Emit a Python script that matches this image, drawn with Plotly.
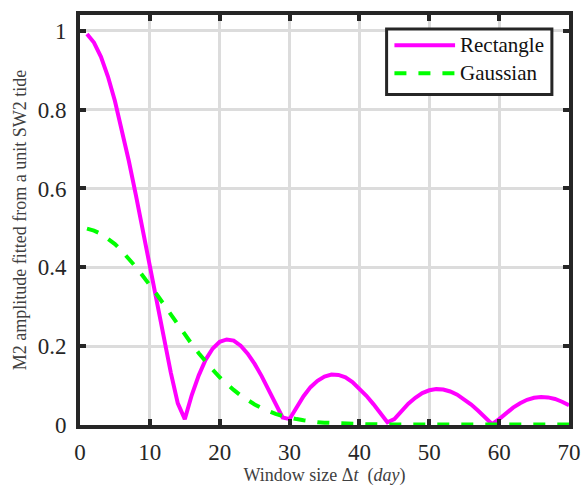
import plotly.graph_objects as go

days = list(range(1, 71))

rectangle = [
    0.992, 0.970, 0.934, 0.884, 0.822, 0.750, 0.669, 0.583, 0.492, 0.399,
    0.307, 0.217, 0.133, 0.055, 0.015, 0.076, 0.126, 0.166, 0.194, 0.211,
    0.217, 0.214, 0.201, 0.181, 0.155, 0.124, 0.090, 0.054, 0.019, 0.015,
    0.046, 0.073, 0.096, 0.112, 0.123, 0.128, 0.127, 0.121, 0.109, 0.093,
    0.074, 0.053, 0.030, 0.007, 0.015, 0.036, 0.054, 0.069, 0.081, 0.088,
    0.091, 0.090, 0.085, 0.077, 0.065, 0.052, 0.036, 0.019, 0.002, 0.015,
    0.031, 0.044, 0.055, 0.064, 0.069, 0.071, 0.070, 0.066, 0.059, 0.050,
]

gaussian = [
    0.498, 0.493, 0.485, 0.473, 0.459, 0.441, 0.422, 0.401, 0.378, 0.356,
    0.331, 0.306, 0.280, 0.254, 0.229, 0.205, 0.182, 0.160, 0.140, 0.121,
    0.104, 0.089, 0.075, 0.063, 0.052, 0.043, 0.035, 0.028, 0.023, 0.018,
    0.015, 0.012, 0.009, 0.007, 0.006, 0.005, 0.004, 0.003, 0.003, 0.002,
    0.002, 0.002, 0.001, 0.001, 0.001, 0.001, 0.001, 0.001, 0.001, 0.001,
    0.001, 0.001, 0.001, 0.001, 0.001, 0.001, 0.001, 0.001, 0.001, 0.001,
    0.001, 0.001, 0.001, 0.001, 0.001, 0.001, 0.001, 0.001, 0.001, 0.001,
]

series_names = ["Rectangle", "Gaussian"]
series_colors = ["#ff00ff", "#00ff00"]
series_dash = ["solid", "dash"]

x_ticks = [0, 10, 20, 30, 40, 50, 60, 70]
y_ticks = [0, 0.2, 0.4, 0.6, 0.8, 1]
y_tick_labels = ["0", "0.2", "0.4", "0.6", "0.8", "1"]

FONT = "Liberation Serif"
DARK = "#262626"
GRID = "#dcdcdc"

fig = go.Figure()
for name, ys, col, dsh in zip(series_names, [rectangle, gaussian], series_colors, series_dash):
    fig.add_trace(go.Scatter(x=days, y=ys, mode="lines", name=name,
                             line=dict(color=col, width=4, dash=dsh),
                             showlegend=False))

axis_common = dict(
    showline=True, linewidth=4, linecolor=DARK, mirror="ticks",
    ticks="inside", ticklen=6, tickwidth=4, tickcolor=DARK,
    showgrid=True, gridcolor=GRID, gridwidth=3, zeroline=False,
    tickfont=dict(family=FONT, size=23, color=DARK),
    automargin=False,
)

fig.update_xaxes(range=[0, 70], tickvals=x_ticks, ticklabelstandoff=3,
                 title=dict(text="Window size Δ<i>t</i>  (<i>day</i>)",
                            font=dict(family=FONT, size=18, color="#404040"),
                            standoff=5),
                 **axis_common)
fig.update_yaxes(range=[0, 1.04], tickvals=y_ticks, ticktext=y_tick_labels,
                 ticklabelstandoff=5,
                 title=dict(text="M2 amplitude fitted from a unit SW2 tide",
                            font=dict(family=FONT, size=18, color="#404040"),
                            standoff=7),
                 **axis_common)

# Custom legend box (paper coordinates)
L, R, T, B = 0.627, 0.965, 0.966, 0.806
fig.add_shape(type="rect", xref="paper", yref="paper", x0=L, x1=R, y0=B, y1=T,
              line=dict(color=DARK, width=3), fillcolor="white", layer="above")
rows = [0.926, 0.858]
for name, col, dsh, yy in zip(series_names, series_colors, series_dash, rows):
    fig.add_shape(type="line", xref="paper", yref="paper",
                  x0=L + 0.016, x1=L + 0.140, y0=yy, y1=yy,
                  line=dict(color=col, width=4, dash=dsh), layer="above")
    fig.add_annotation(xref="paper", yref="paper", x=L + 0.147, y=yy,
                       xanchor="left", yanchor="middle", showarrow=False,
                       text=name, font=dict(family=FONT, size=21, color="#111111"))

fig.update_layout(
    width=583, height=489,
    margin=dict(l=80, r=14, t=15, b=64),
    paper_bgcolor="white", plot_bgcolor="white",
    font=dict(family=FONT),
    showlegend=False,
)

fig.write_html("out.html")
